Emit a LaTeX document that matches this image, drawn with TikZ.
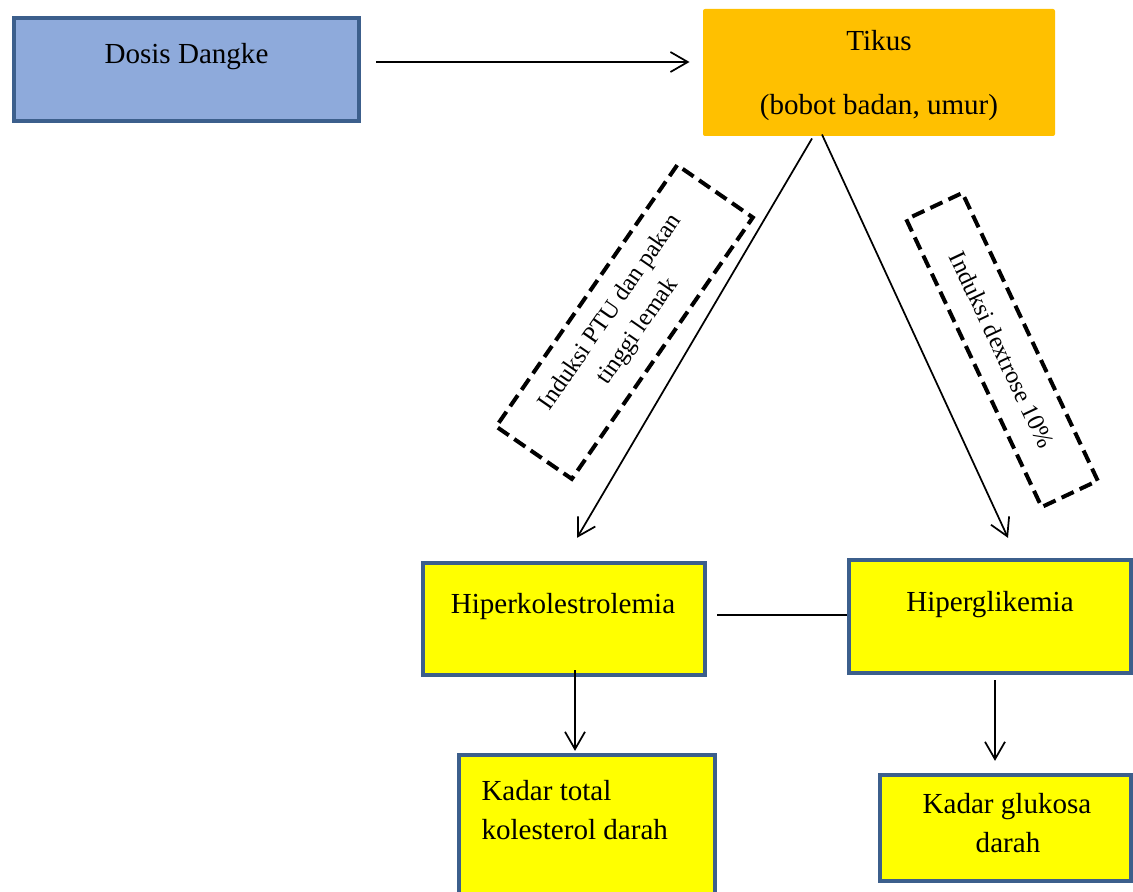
\documentclass[tikz,border=0pt]{standalone}
\usepackage{fontspec}
\setmainfont{Liberation Serif}
\usetikzlibrary{arrows.meta,calc}

\definecolor{dangkeblue}{RGB}{142,170,219}
\definecolor{boxedge}{RGB}{60,95,140}
\definecolor{tikusorange}{RGB}{255,192,0}
\definecolor{hiperyellow}{RGB}{255,255,0}

\tikzset{every picture/.style={line width=0.75pt}}
\tikzset{
bluebox/.style={draw=boxedge, line width=3.2pt, fill=dangkeblue, inner sep=0pt},
orangebox/.style={fill=tikusorange, rounded corners=1.5pt, inner sep=0pt},
yellowbox/.style={draw=boxedge, line width=3.2pt, fill=hiperyellow, inner sep=0pt},
dashbox/.style={draw, line width=3pt, dash pattern=on 10pt off 5pt, inner sep=0pt,
  font=\fontsize{18.4}{25}\selectfont},
txt/.style={inner sep=0pt, font=\fontsize{21.8}{29.3}\selectfont},
arr/.style={line width=1.3pt, -{Straight Barb[length=13pt,width=15pt,line width=1.3pt]}},
link/.style={line width=1.3pt}
}

\begin{document}
\begin{tikzpicture}[x=0.75pt,y=0.75pt,yscale=-1,xscale=1]
\useasboundingbox (0,0) rectangle (1133,892);

%Shape: Rectangle
\node[bluebox, minimum width=258.75pt, minimum height=77.25pt] (dosis) at (186.5,69.5) {};
%Shape: Rectangle
\node[orangebox, minimum width=264pt, minimum height=95.25pt] (tikus) at (879,72.5) {};
%Shape: Rectangle
\node[yellowbox, minimum width=211.5pt, minimum height=84pt] (hiperkol) at (564,619) {};
%Shape: Rectangle
\node[yellowbox, minimum width=211.5pt, minimum height=84.75pt] (hiperglik) at (990,616.5) {};
%Shape: Rectangle
\node[yellowbox, minimum width=192pt, minimum height=120pt] (kadartot) at (587,835) {};
%Shape: Rectangle
\node[yellowbox, minimum width=188.25pt, minimum height=79.5pt] (kadarglu) at (1005.5,828) {};

%Shape: Dashed Rectangle
\node[dashbox, rotate=55.3, minimum width=238.5pt, minimum height=69pt, align=center] (ptu) at (624.5,322) {Induksi PTU dan pakan\\tinggi lemak};
%Shape: Dashed Rectangle
\node[dashbox, rotate=-64.8, minimum width=238.5pt, minimum height=46.5pt] (dextrose) at (1002,350) {Induksi dextrose 10\%};

% Text Node
\node[txt, anchor=base] (dosis-txt) at (186.5,64) {Dosis Dangke};
% Text Node
\node[txt, anchor=base] (tikus-txt) at (879,51) {Tikus};
% Text Node
\node[txt, anchor=base] (tikus-sub) at (879,115) {(bobot badan, umur)};
% Text Node
\node[txt, anchor=base] (hiperkol-txt) at (563,613) {Hiperkolestrolemia};
% Text Node
\node[txt, anchor=base] (hiperglik-txt) at (990,611) {Hiperglikemia};
% Text Node
\node[txt, anchor=base west] (kadartot-a) at (481,800) {Kadar total};
% Text Node
\node[txt, anchor=base west] (kadartot-b) at (481,839) {kolesterol darah};
% Text Node
\node[txt, anchor=base] (kadarglu-a) at (1007,813) {Kadar glukosa};
% Text Node
\node[txt, anchor=base] (kadarglu-b) at (1008,852) {darah};

%Straight Lines
\draw[arr] ($(dosis.east)+(15,-7.5)$) -- ($(tikus.west)+(-13,-10.5)$);
%Straight Lines
\draw[arr] ($(tikus.south)+(-67,2)$) -- ($(hiperkol.north)+(13,-23)$);
%Straight Lines
\draw[arr] ($(tikus.south)+(-57,-2)$) -- ($(hiperglik.north)+(18,-20)$);
%Straight Lines
\draw[link] ($(hiperkol.east)+(10,-4)$) -- ($(hiperglik.west)+(0,-1.5)$);
%Straight Lines
\draw[arr] ($(hiperkol.south)+(11,-7)$) -- ($(kadartot.north)+(-12,-2)$);
%Straight Lines
\draw[arr] ($(hiperglik.south)+(5,5)$) -- ($(kadarglu.north)+(-10.5,-12)$);

\end{tikzpicture}
\end{document}
